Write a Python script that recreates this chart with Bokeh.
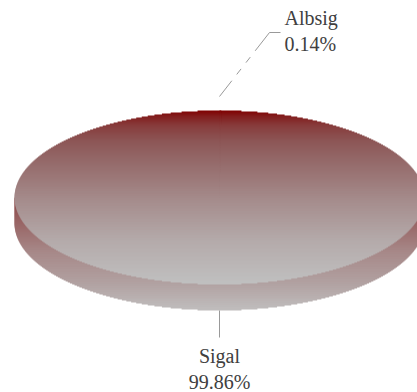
import math
from bokeh.plotting import figure
from bokeh.models import Range1d
from bokeh.embed import file_html
from bokeh.resources import INLINE
from bokeh.core.properties import value

categories = ["Albsig", "Sigal"]
shares = [0.14, 99.86]
labels = ["0.14%", "99.86%"]

W, H = 417, 392
CX, CY, RX, RY, DEPTH = 219.0, 197.0, 205.0, 87.0, 26.0
TOP_STOPS = [(110, (128, 0, 0)), (116, (130, 30, 30)), (125, (135, 60, 60)), (140, (140, 85, 85)),
             (160, (148, 105, 105)), (200, (165, 140, 140)), (240, (180, 170, 170)), (284, (192, 192, 192))]
SIDE_STOPS = [(197, (140, 70, 70)), (250, (166, 135, 135)), (285, (178, 163, 163)), (310, (192, 190, 190))]
TEXT = "#404040"
SERIF = value("Liberation Serif")
TEXT_SHIFT = -8

p = figure(width=W, height=H, x_range=Range1d(0, W), y_range=Range1d(H, 0),
           output_backend="svg", toolbar_location=None, min_border=0,
           outline_line_color=None, background_fill_color="white")
p.axis.visible = False
p.grid.visible = False


def shade(y, stops):
    y = max(stops[0][0], min(stops[-1][0], y))
    for (y0, a), (y1, b) in zip(stops, stops[1:]):
        if y <= y1:
            f = (y - y0) / (y1 - y0)
            return "#%02x%02x%02x" % tuple(round(a[i] + (b[i] - a[i]) * f) for i in range(3))
    return "#c0c0c0"


def half(row, cy):
    d = (row - cy) / RY
    return RX * math.sqrt(max(0.0, 1 - d * d))


def strip_width(i, cy):
    y = i + 0.5
    return half(y, cy) if y < cy else half(y + 1, cy)


# side wall
ys, ls, rs, cs = [], [], [], []
for i in range(int(CY), int(CY + RY + DEPTH) + 1):
    y = i + 0.5
    w = RX if y < CY + DEPTH else strip_width(i, CY + DEPTH)
    ys.append(i + 1); ls.append(CX - w); rs.append(CX + w)
    cs.append(shade(y, SIDE_STOPS))
p.hbar(y=ys, left=ls, right=rs, height=2.0, fill_color=cs, fill_alpha=1.0, line_color=None)

# top face: the large slice underneath, the thin slice over it, from its angle
total = sum(shares)
slope = math.tan(shares[0] / total * 2 * math.pi)
ys, ls, rs, cs = [], [], [], []
ay, al, ar, ac = [], [], [], []
for i in range(int(CY - RY), int(CY + RY)):
    y = i + 0.5
    w = strip_width(i, CY)
    col = shade(y, TOP_STOPS)
    ys.append(i + 1); ls.append(CX - w); rs.append(CX + w); cs.append(col)
    if y < CY:
        ay.append(i + 1); al.append(CX); ar.append(CX + min(w, (CY - y) * slope * RX / RY)); ac.append(col)
p.hbar(y=ys, left=ls, right=rs, height=2.0, fill_color=cs, fill_alpha=1.0, line_color=None)
p.hbar(y=ay, left=al, right=ar, height=2.0, fill_color=ac, fill_alpha=1.0, line_color=None)

# leaders
p.line([219, 269, 280], [96, 32, 32], line_color="#999999", line_width=1,
       line_dash="20 8 7 8 7 8 80")
p.line([219, 219], [310, 337], line_color="#999999", line_width=1)

# labels
p.text([284, 284], [25 + TEXT_SHIFT, 51 + TEXT_SHIFT], text=[categories[0], labels[0]], text_font=SERIF,
       text_font_size="20px", text_color=TEXT, text_align="left", text_baseline="alphabetic")
p.text([219, 219], [363 + TEXT_SHIFT, 389 + TEXT_SHIFT], text=[categories[1], labels[1]], text_font=SERIF,
       text_font_size="20px", text_color=TEXT, text_align="center", text_baseline="alphabetic")

open("out.html", "w").write(file_html(p, INLINE))
